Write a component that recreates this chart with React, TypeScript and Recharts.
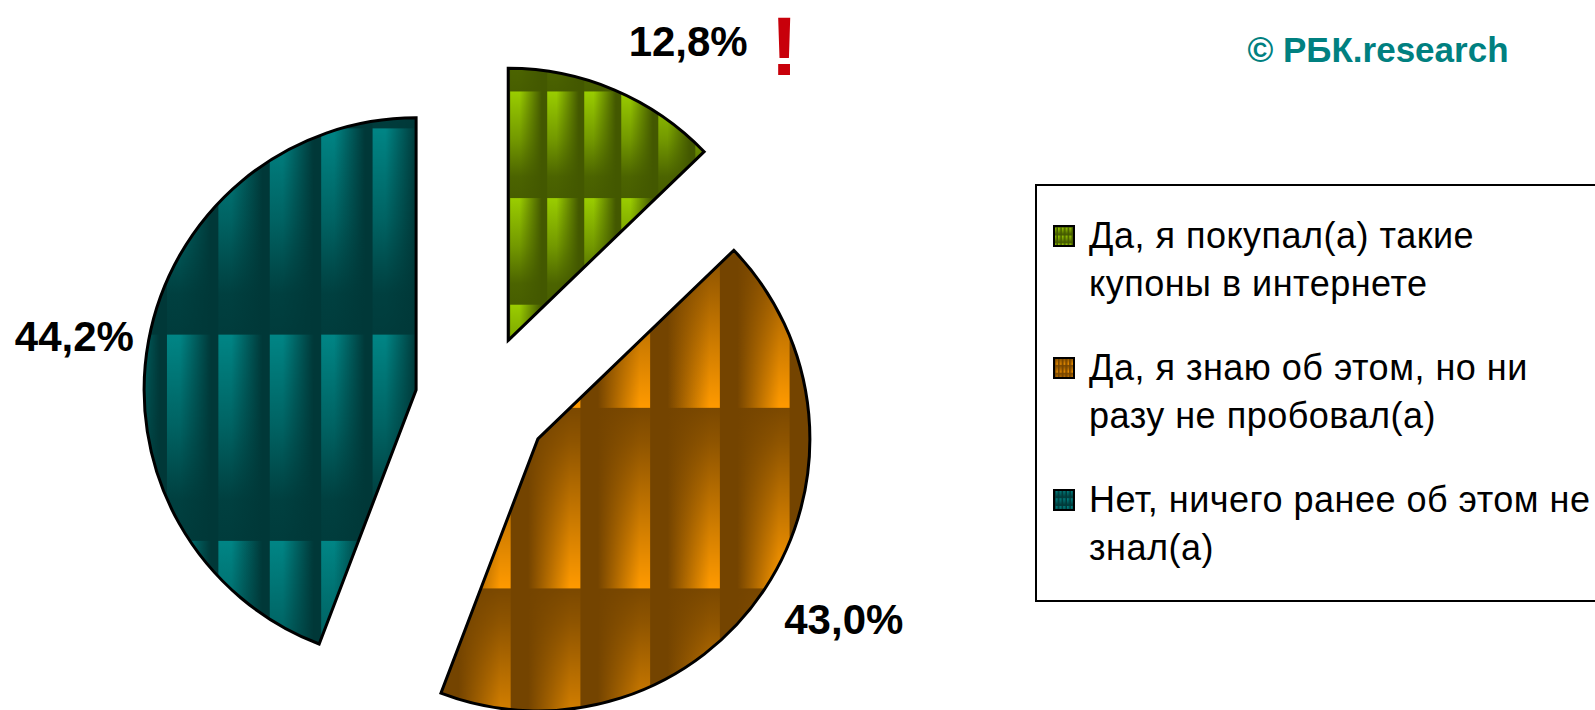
import React from "react"
import { PieChart, Pie, Cell, Legend } from "recharts"

// ── Data ──────────────────────────────────────────────────────────────────────

const categories = [
  "Да, я покупал(а) такие\nкупоны в интернете",
  "Да, я знаю об этом, но ни\nразу не пробовал(а)",
  "Нет, ничего ранее об этом не\nзнал(а)",
]
const shares = [12.8, 43.0, 44.2]
const copyright = "© РБК.research"

// ── Look ──────────────────────────────────────────────────────────────────────

const FONT = "'Liberation Sans', Arial, sans-serif"
const W = 1595
const H = 710
const CX = 482
const CY = 402
const R = 272
const EXPLODE = 67
const TILE_W = 0.189
const TILE_H = 0.392

// light / dark tones of each texture, reverse = dark on the left and top
const textures = [
  { light: "#9acd00", dark: "#435800", reverse: false, x: 0.01, y: 0.085 },
  { light: "#ff9a00", dark: "#744400", reverse: true, x: 0.0, y: -0.05 },
  { light: "#008585", dark: "#003838", reverse: false, x: 0.084, y: 0.02 },
]
// small nudges so the labels sit where the original put them
const labelGap = [77, 83, 74]
const labelShift = [-8, 3, 1.4]

const RAD = Math.PI / 180
const total = shares.reduce((s, v) => s + v, 0)
const rows = categories.map((name, i) => ({ name, value: shares[i] }))

function midAngle(i: number) {
  const before = shares.slice(0, i).reduce((s, v) => s + v, 0)
  return 90 - ((before + shares[i] / 2) / total) * 360
}

// ── Texture defs ──────────────────────────────────────────────────────────────

function Texture({ id, light, dark, reverse, x, y }: any) {
  const v = reverse
    ? [[0, 0.95], [0.2, 0.8], [0.55, 0.45], [1, 0]]
    : [[0, 0], [0.45, 0.45], [0.8, 0.9], [1, 0.95]]
  return (
    <>
      <linearGradient id={`${id}-h`} x1="0" y1="0" x2="1" y2="0">
        <stop offset="0" stopColor={reverse ? dark : light} />
        <stop offset="0.25" stopColor={reverse ? dark : light} />
        <stop offset="0.85" stopColor={reverse ? light : dark} />
        <stop offset="1" stopColor={reverse ? light : dark} />
      </linearGradient>
      <linearGradient id={`${id}-v`} x1="0" y1="0" x2="0" y2="1">
        {v.map(([o, a], k) => (
          <stop key={k} offset={o} stopColor={dark} stopOpacity={a} />
        ))}
      </linearGradient>
      <pattern
        id={id}
        patternUnits="objectBoundingBox"
        patternContentUnits="objectBoundingBox"
        x={x}
        y={y}
        width={TILE_W}
        height={TILE_H}
      >
        <rect width={TILE_W} height={TILE_H} fill={`url(#${id}-h)`} />
        <rect width={TILE_W} height={TILE_H} fill={`url(#${id}-v)`} />
      </pattern>
    </>
  )
}

// ── Labels ────────────────────────────────────────────────────────────────────

function makeLabel(slice: number) {
  return (props: any) => {
    if (props.index !== slice) return null
    const { cx, cy, midAngle: mid, outerRadius, value } = props
    const a = (mid + labelShift[slice]) * RAD
    const r = outerRadius + labelGap[slice]
    const x = cx + r * Math.cos(a)
    const y = cy - r * Math.sin(a)
    const txt = Number(value).toFixed(1).replace(".", ",") + "%"
    return (
      <g>
        <text
          x={x}
          y={y}
          dy="0.36em"
          textAnchor="middle"
          fontFamily={FONT}
          fontSize={42}
          fontWeight="bold"
          fill="#000"
        >
          {txt}
        </text>
        {slice === 0 && (
          <text
            x={x + 96}
            y={y + 34}
            textAnchor="middle"
            fontFamily={FONT}
            fontSize={84}
            fontWeight="bold"
            fill="#c8000a"
          >
            !
          </text>
        )}
      </g>
    )
  }
}

// ── Legend ────────────────────────────────────────────────────────────────────

function LegendBox() {
  return (
    <div
      style={{
        border: "2px solid #000",
        boxSizing: "border-box",
        width: 640,
        height: 418,
        padding: "26px 0 0 16px",
        background: "#fff",
        fontFamily: FONT,
        color: "#000",
      }}
    >
      {categories.map((c, i) => (
        <div key={i} style={{ display: "flex", alignItems: "flex-start", marginBottom: 36 }}>
          <svg width={22} height={22} style={{ marginTop: 13, flex: "none" }}>
            <rect x={1} y={1} width={20} height={20} fill={`url(#tex-${i})`} stroke="#000" strokeWidth={2} />
          </svg>
          <div
            style={{
              marginLeft: 14,
              whiteSpace: "pre",
              fontSize: 36,
              lineHeight: "48px",
              letterSpacing: 0.5,
            }}
          >
            {c}
          </div>
        </div>
      ))}
    </div>
  )
}

// ── Chart ─────────────────────────────────────────────────────────────────────

export default function App() {
  return (
    <div
      style={{
        position: "absolute",
        left: 0,
        top: 0,
        width: W,
        height: H,
        overflow: "hidden",
        background: "#fff",
        fontFamily: FONT,
      }}
    >
      <PieChart width={W} height={H} margin={{ top: 0, right: 0, bottom: 0, left: 0 }}>
        <defs>
          {textures.map((t, i) => (
            <Texture key={i} id={`tex-${i}`} {...t} />
          ))}
        </defs>

        {shares.map((_, s) => {
          const m = midAngle(s) * RAD
          return (
            <Pie
              key={s}
              data={rows}
              dataKey="value"
              nameKey="name"
              cx={CX + EXPLODE * Math.cos(m)}
              cy={CY - EXPLODE * Math.sin(m)}
              outerRadius={R}
              startAngle={90}
              endAngle={-270}
              stroke="#000"
              strokeWidth={3}
              labelLine={false}
              label={makeLabel(s)}
              isAnimationActive={false}
            >
              {rows.map((_, i) => (
                <Cell
                  key={i}
                  fill={i === s ? `url(#tex-${i})` : "none"}
                  stroke={i === s ? "#000" : "none"}
                />
              ))}
            </Pie>
          )
        })}

        <text
          x={1378}
          y={62}
          textAnchor="middle"
          fontFamily={FONT}
          fontSize={35}
          fontWeight="bold"
          fill="#008080"
        >
          {copyright}
        </text>

        <Legend
          layout="vertical"
          align="right"
          verticalAlign="top"
          content={() => <LegendBox />}
          wrapperStyle={{ left: 1035, top: 184, right: "auto", bottom: "auto", width: 640, height: 418 }}
        />
      </PieChart>
    </div>
  )
}
